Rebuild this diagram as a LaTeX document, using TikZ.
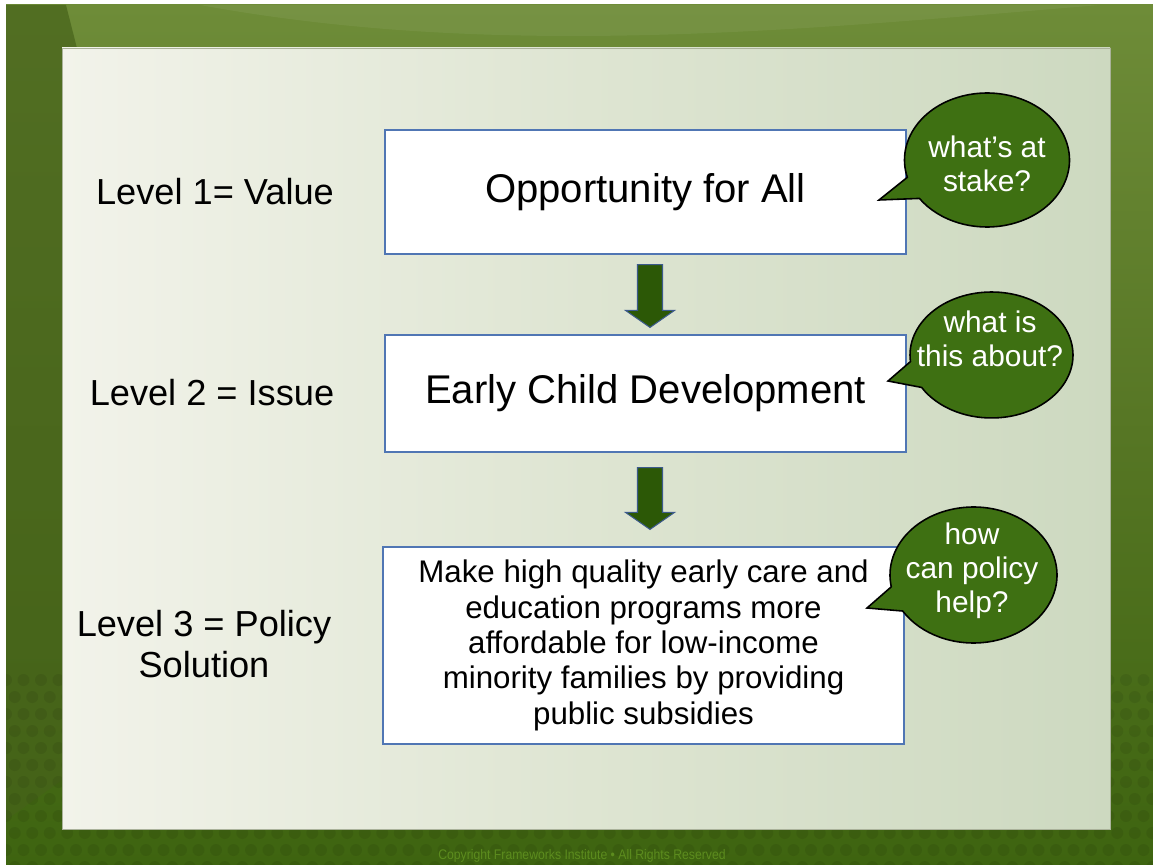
\documentclass[tikz,border=0pt]{standalone}
\usepackage{fontspec}
\setmainfont{Liberation Sans}
\usetikzlibrary{calc}
\definecolor{bubblegreen}{RGB}{62,112,18}
\definecolor{arrowgreen}{RGB}{44,88,6}
\definecolor{arrowedge}{RGB}{60,90,140}
\definecolor{boxblue}{RGB}{80,118,180}
\definecolor{bgtop}{RGB}{110,140,56}
\definecolor{bgmid}{RGB}{86,118,36}
\definecolor{bgbot}{RGB}{62,100,16}
\definecolor{bgleft}{RGB}{70,98,26}
\definecolor{panelA}{RGB}{242,243,234}
\definecolor{panelM}{RGB}{222,229,210}
\definecolor{panelB}{RGB}{205,217,192}
\definecolor{paneledge}{RGB}{170,178,154}
\definecolor{copyc}{RGB}{92,140,30}
\begin{document}
\begin{tikzpicture}[x=0.02cm,y=-0.02cm,
  levelbox/.style={draw=boxblue, line width=0.7pt, fill=white, minimum width=10.42cm, inner sep=0pt, align=center, text=black},
  bigtext/.style={font=\fontsize{22.8}{26}\selectfont},
  smalltext/.style={font=\fontsize{17.8}{20.1}\selectfont},
  leveltext/.style={font=\fontsize{20.6}{23.2}\selectfont, align=center, text=black},
  bubble/.style={draw=black, line width=0.9pt, fill=bubblegreen},
  bubbletext/.style={font=\fontsize{17}{19.5}\selectfont, text=white, align=center},
  blockarrow/.style={draw=arrowedge, line width=0.6pt, fill=arrowgreen, line join=miter},
]
\useasboundingbox (0,0) rectangle (1153,865);
\fill[white] (0,0) rectangle (1153,865);
% background
\shade[top color=bgtop, bottom color=bgbot, middle color=bgmid] (6,5) rectangle (1153,865);
\fill[bgleft, opacity=0.7] (6,5) -- (66,5) -- (80,60) -- (62,780) -- (6,820) -- cycle;
\fill[white, opacity=0.06] (200,5) .. controls (500,60) and (800,30) .. (1100,5) -- cycle;
\begin{scope}
\clip (6,5) rectangle (1153,865);
\foreach \j in {0,...,11}{
  \foreach \i in {0,...,66}{
    \fill[black, opacity=0.07] ({6+\i*17.5+mod(\j,2)*8.75},{680+\j*17}) circle[radius=0.12cm];
  }
}
\end{scope}
% panel
\shade[left color=panelA, right color=panelB, middle color=panelM, draw=paneledge, line width=0.3pt] (62,48) rectangle (1110,829);
% boxes
\node[levelbox, minimum height=2.48cm, bigtext] (b1) at (645.5,192) {Opportunity for All};
\node[levelbox, minimum height=2.34cm, bigtext] (b2) at (645.5,393.5) {Early Child Development};
\node[levelbox, minimum height=3.94cm, smalltext] (b3) at (643.5,645.5) {Make high quality early care and\\education programs more\\affordable for low-income\\minority families by providing\\public subsidies};
% level labels
\node[leveltext] (l1) at (215,192) {Level 1= Value};
\node[leveltext] (l2) at (212,393) {Level 2 = Issue};
\node[leveltext] (l3) at (204,644) {Level 3 = Policy\\Solution};
% block arrows
\coordinate (a1s) at ($(b1.south)+(4.5,10)$);
\coordinate (a1e) at ($(b2.north)+(4.5,-7)$);
\coordinate (a2s) at ($(b2.south)+(4.5,15)$);
\coordinate (a2e) at ($(b3.north)+(6.5,-17)$);
\foreach \s/\e in {a1s/a1e, a2s/a2e}{
  \draw[blockarrow] ($(\s)+(-12.5,0)$) -- ($(\s)+(12.5,0)$) -- ($(\e)+(12.5,-17)$) -- ($(\e)+(24.5,-17)$) -- (\e) -- ($(\e)+(-24.5,-17)$) -- ($(\e)+(-12.5,-17)$) -- cycle;
}
% speech bubbles
\coordinate (q1c) at (987,160);
\coordinate (q1t) at (879,200);
\draw[bubble] ($(q1c)+(195:1.65cm and 1.34cm)$) arc[start angle=195, end angle=-145, x radius=1.65cm, y radius=1.34cm] -- (q1t) -- cycle;
\node[bubbletext] (q1) at (987,164) {what’s at\\stake?};
\coordinate (q2c) at (991.5,355);
\coordinate (q2t) at (888,381);
\draw[bubble] ($(q2c)+(186:1.63cm and 1.26cm)$) arc[start angle=186, end angle=-149, x radius=1.63cm, y radius=1.26cm] -- (q2t) -- cycle;
\node[bubbletext] (q2) at (990,339) {what is\\this about?};
\coordinate (q3c) at (973.5,575);
\coordinate (q3t) at (867,608);
\draw[bubble] ($(q3c)+(190:1.67cm and 1.36cm)$) arc[start angle=190, end angle=-148, x radius=1.67cm, y radius=1.36cm] -- (q3t) -- cycle;
\node[bubbletext] (q3) at (972,571) {how\\can policy\\help?};
% copyright
\node[text=copyc, font=\fontsize{7.9}{8.5}\selectfont, xscale=0.88] (copy) at (582,856) {Copyright Frameworks Institute • All Rights Reserved};
\end{tikzpicture}
\end{document}
